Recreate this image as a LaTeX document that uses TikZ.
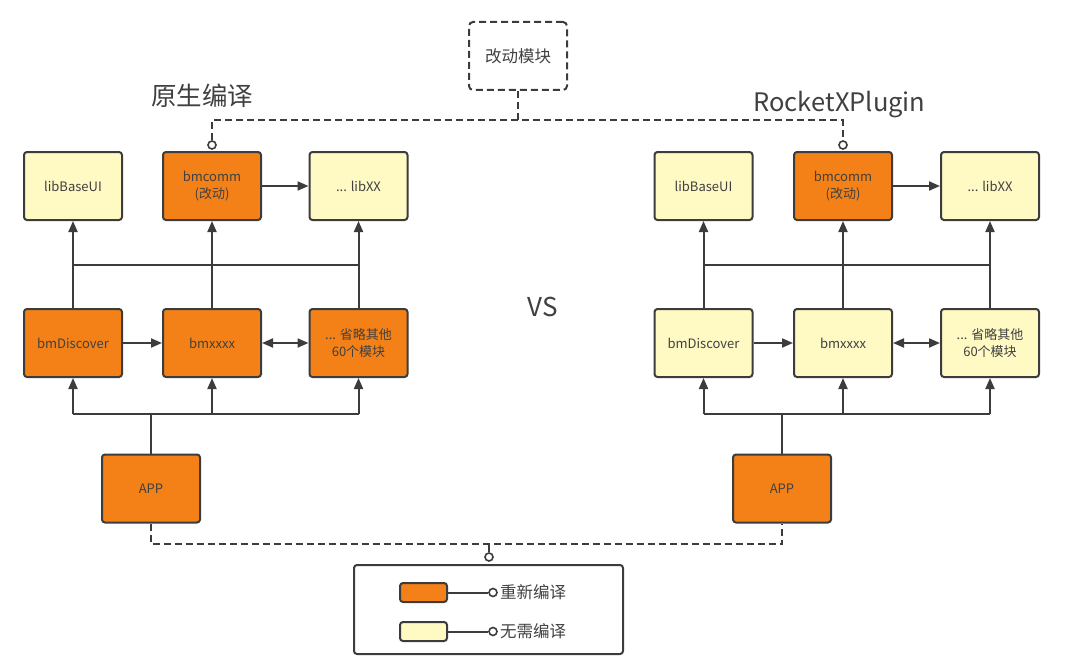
\documentclass[tikz,border=0pt]{standalone}
\usepackage{fontspec}
\setmainfont{Noto Sans CJK SC}
\usetikzlibrary{arrows.meta}
\definecolor{orng}{HTML}{F38118}
\definecolor{ylw}{HTML}{FFF9C4}
\definecolor{edge}{HTML}{3C3C3C}
\definecolor{txt}{HTML}{404040}
\begin{document}
\begin{tikzpicture}[x=1pt,y=-1pt,
  mod/.style={draw=edge, line width=2pt, rounded corners=3pt, minimum width=98pt, minimum height=68pt, align=center, font=\fontsize{13}{17}\selectfont, text=txt, inner sep=0pt},
  chg/.style={mod, fill=orng},
  keep/.style={mod, fill=ylw},
  link/.style={draw=edge, line width=2pt},
  arr/.style={link, -{Triangle[length=11pt,width=9pt]}},
  darr/.style={link, {Triangle[length=11pt,width=9pt]}-{Triangle[length=11pt,width=9pt]}},
  dsh/.style={draw=edge, line width=2pt, dash pattern=on 7pt off 4pt},
  pin/.style={circle, draw=edge, line width=1.6pt, fill=white, minimum size=8pt, inner sep=0pt},
  swatch/.style={draw=edge, line width=2pt, rounded corners=3pt, minimum width=47pt, minimum height=19pt, inner sep=0pt},
  legtext/.style={anchor=west, text=txt, font=\fontsize{16.5}{20}\selectfont, inner sep=0pt},
  title/.style={text=txt, font=\fontsize{25.5}{30}\selectfont, inner sep=0pt}
]
\useasboundingbox (0,0) rectangle (1065,666);

% ---------- left cluster ----------
\node[keep] (Lbase) at (73,186) {libBaseUI};
\node[chg]  (Lcomm) at (212,186) {bmcomm\\(改动)};
\node[keep] (Lxx)   at (358.5,186) {... libXX};
\node[chg]  (Ldisc) at (73,343) {bmDiscover};
\node[chg]  (Lmid)  at (212,343) {bmxxxx};
\node[chg]  (Loth)  at (358.5,343) {... 省略其他\\60个模块};
\node[chg]  (Lapp)  at (151,488.5) {APP};

\coordinate (Lt1) at (73,265);
\coordinate (Lt3) at (358.5,265);
\coordinate (Lb1) at (73,414);
\coordinate (Lb3) at (358.5,414);

\draw[link] (Ldisc.north) -- (Lt1) -- (Lt3) -- (Loth.north);
\draw[arr] (Lt1) -- (Lbase.south);
\draw[arr] (Lt3) -- (Lxx.south);
\draw[arr] (Lmid.north) -- (Lcomm.south);
\draw[arr] (Lcomm.east) -- (Lxx.west);
\draw[arr] (Ldisc.east) -- (Lmid.west);
\draw[darr] (Lmid.east) -- (Loth.west);
\draw[link] (Lapp.north) -- (Lapp.north |- Lb1);
\draw[link] (Lb1) -- (Lb3);
\draw[arr] (Lb1) -- (Ldisc.south);
\draw[arr] (Lmid.south |- Lb1) -- (Lmid.south);
\draw[arr] (Lb3) -- (Loth.south);

% ---------- right cluster ----------
\node[keep] (Rbase) at (703.5,186) {libBaseUI};
\node[chg]  (Rcomm) at (843,186) {bmcomm\\(改动)};
\node[keep] (Rxx)   at (990,186) {... libXX};
\node[keep] (Rdisc) at (703.5,343) {bmDiscover};
\node[keep] (Rmid)  at (843,343) {bmxxxx};
\node[keep] (Roth)  at (990,343) {... 省略其他\\60个模块};
\node[chg]  (Rapp)  at (782,488.5) {APP};

\coordinate (Rt1) at (703.5,265);
\coordinate (Rt3) at (990,265);
\coordinate (Rb1) at (703.5,414);
\coordinate (Rb3) at (990,414);

\draw[link] (Rdisc.north) -- (Rt1) -- (Rt3) -- (Roth.north);
\draw[arr] (Rt1) -- (Rbase.south);
\draw[arr] (Rt3) -- (Rxx.south);
\draw[arr] (Rmid.north) -- (Rcomm.south);
\draw[arr] (Rcomm.east) -- (Rxx.west);
\draw[arr] (Rdisc.east) -- (Rmid.west);
\draw[darr] (Rmid.east) -- (Roth.west);
\draw[link] (Rapp.north) -- (Rapp.north |- Rb1);
\draw[link] (Rb1) -- (Rb3);
\draw[arr] (Rb1) -- (Rdisc.south);
\draw[arr] (Rmid.south |- Rb1) -- (Rmid.south);
\draw[arr] (Rb3) -- (Roth.south);

% ---------- top: changed module ----------
\node[draw=edge, line width=2pt, dash pattern=on 7pt off 4pt, rounded corners=4pt, minimum width=98pt, minimum height=68pt, inner sep=0pt, text=txt, font=\fontsize{16.5}{20}\selectfont] (chgmod) at (518,56) {改动模块};
\coordinate (topbus) at (518,120.5);
\node[pin] (Lpin) at (212,145) {};
\node[pin] (Rpin) at (843,145) {};
\draw[dsh] (chgmod.south) -- (topbus);
\draw[dsh] (Lpin.north) -- (Lpin.north |- topbus) -- (Rpin.north |- topbus) -- (Rpin.north);

\node[title] (Ltitle) at (202,96) {原生编译};
\node[title] (Rtitle) at (839.5,105) {RocketXPlugin};
\node[text=txt, font=\fontsize{26}{30}\selectfont, inner sep=0pt] (vs) at (543,307) {VS};

% ---------- bottom: legend ----------
\coordinate (botbus) at (489,544);
\node[draw=edge, line width=2pt, rounded corners=3pt, minimum width=269pt, minimum height=89pt, inner sep=0pt] (legend) at (488.5,609.5) {};
\node[pin] (legpin) at (489,557) {};
\draw[dsh] (Lapp.south) -- (Lapp.south |- botbus) -- (Rapp.south |- botbus) -- (Rapp.south);
\draw[link] (legpin.north) -- (legpin.north |- botbus);

\node[swatch, fill=orng] (sw1) at (423.5,592.5) {};
\node[swatch, fill=ylw]  (sw2) at (423.5,631.5) {};
\node[pin] (p1) at (493,592.5) {};
\node[pin] (p2) at (493,631.5) {};
\draw[link] (sw1.east) -- (p1.west);
\draw[link] (sw2.east) -- (p2.west);
\node[legtext] (t1) at (500,592.5) {重新编译};
\node[legtext] (t2) at (500,631.5) {无需编译};
\end{tikzpicture}
\end{document}
